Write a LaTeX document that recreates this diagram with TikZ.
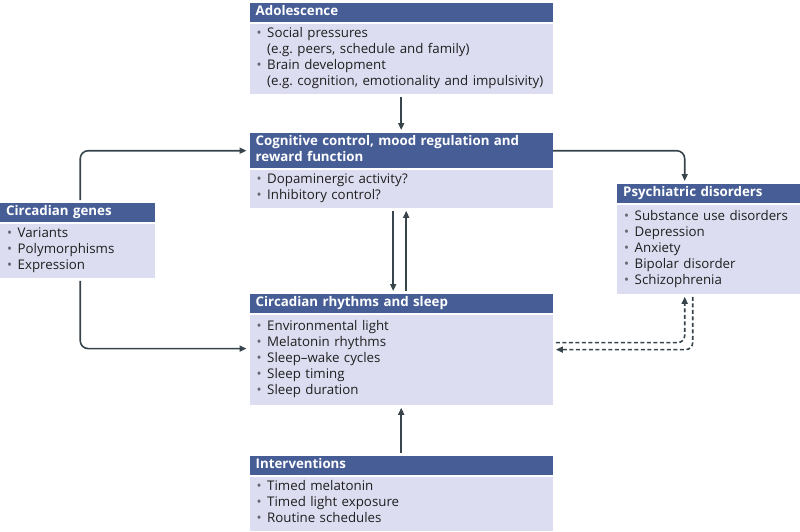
\documentclass[tikz,border=0pt]{standalone}
\usepackage{fontspec}
\setmainfont{Open Sans}
\usepackage{tikz}
\usetikzlibrary{positioning, arrows.meta}
\definecolor{headblue}{RGB}{70,93,150}
\definecolor{bodylav}{RGB}{220,221,240}
\definecolor{linegrey}{RGB}{55,68,76}
\definecolor{bulgrey}{RGB}{100,102,110}
\newcommand{\bul}{\makebox[10.5pt][l]{\textcolor{bulgrey}{•}}}
\newcommand{\ind}{\hspace*{10.5pt}}
\frenchspacing
\tikzset{
  font={\fontsize{13.3pt}{16pt}\selectfont}}

\begin{document}
\begin{tikzpicture}[x=1pt, y=-1pt,
  head/.style={fill=headblue, text=white, font={\fontsize{13.3pt}{16pt}\selectfont\bfseries}, anchor=north west, align=left, text width=#1, inner xsep=6pt, inner ysep=1.5pt, execute at begin node={\strut}, execute at end node={\strut}},
  body/.style={fill=bodylav, text=black!88, align=left, text width=#1, inner xsep=7pt, inner ysep=3pt, execute at begin node={\strut}, execute at end node={\strut}},
  arr/.style={-{Triangle[length=7pt,width=6pt]}, draw=linegrey, line width=1.6pt, shorten >=3pt, shorten <=3pt},
  dsh/.style={arr, dash pattern=on 4pt off 2.5pt, line width=1.6pt, rounded corners=7pt}]
  \useasboundingbox (0,0) rectangle (800,531);

  \node (adoH) [head=291pt] at (249.5,3) {Adolescence};
  \node (adoB) [body=289pt, below=1pt of adoH] {\bul Social pressures\\ \ind(e.g. peers, schedule and family)\\ \bul Brain development\\ \ind(e.g. cognition, emotionality and impulsivity)};

  \node (cogH) [head=291pt] at (249.5,133) {Cognitive control, mood regulation and\\ reward function};
  \node (cogB) [body=289pt, below=1pt of cogH] {\bul Dopaminergic activity?\\ \bul Inhibitory control?};

  \node (genH) [head=143pt] at (0,203) {Circadian genes};
  \node (genB) [body=141pt, below=1pt of genH] {\bul Variants\\ \bul Polymorphisms\\ \bul Expression};

  \node (psyH) [head=171pt] at (617,184) {Psychiatric disorders};
  \node (psyB) [body=169pt, below=1pt of psyH, minimum height=89pt] {\bul Substance use disorders\\ \bul Depression\\ \bul Anxiety\\ \bul Bipolar disorder\\ \bul Schizophrenia};

  \node (cirH) [head=291pt] at (249.5,294) {Circadian rhythms and sleep};
  \node (cirB) [body=289pt, below=1pt of cirH, minimum height=90pt] {\bul Environmental light\\ \bul Melatonin rhythms\\ \bul Sleep--wake cycles\\ \bul Sleep timing\\ \bul Sleep duration};

  \node (intH) [head=291pt] at (249.5,456) {Interventions};
  \node (intB) [body=289pt, below=1pt of intH] {\bul Timed melatonin\\ \bul Timed light exposure\\ \bul Routine schedules};

  \draw[arr] (adoB) -- (cogH);
  \draw[arr] ([xshift=-8pt]cogB.south) -- ([xshift=-8pt]cirH.north);
  \draw[arr] ([xshift=5pt]cirH.north) -- ([xshift=5pt]cogB.south);
  \draw[arr] (intH) -- (cirB);
  \draw[arr, rounded corners=8pt] ([xshift=2.5pt]genH.north) |- (cogH.west);
  \draw[arr, rounded corners=8pt] ([xshift=2.5pt]genB.south) |- ([yshift=11pt]cirB.west);
  \draw[arr, rounded corners=8pt, shorten <=0pt] (cogH.east) -| ([xshift=-24pt]psyH.north);
  \draw[dsh] ([yshift=17pt]cirB.east) -| ([xshift=-24pt]psyB.south);
  \draw[dsh] ([xshift=-16pt]psyB.south) |- ([yshift=10pt]cirB.east);
\end{tikzpicture}
\end{document}
